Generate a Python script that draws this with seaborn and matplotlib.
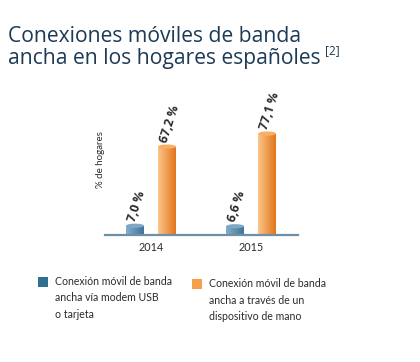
import numpy as np
import pandas as pd
import seaborn as sns
import matplotlib.pyplot as plt
from matplotlib.patches import Ellipse, Rectangle
from matplotlib.colors import LinearSegmentedColormap


years = ["2014", "2015"]
usb_values = [7.0, 6.6]
handheld_values = [67.2, 77.1]
series_names = ["Conexión móvil de banda\nancha vía modem USB\no tarjeta",
                "Conexión móvil de banda\nancha a través de un\ndispositivo de mano"]
value_labels = ["7,0 %", "6,6 %", "67,2 %", "77,1 %"]

title_color = "#1d3a56"
text_color = "#2b2b2b"
axis_color = "#6f8fa6"
legend_colors = ["#2f6f90", "#f4a04c"]
# (light side, dark side) for the cylinder shading
bar_shades = [("#86aecb", "#3f7399"), ("#fbc58a", "#e2761c")]
cap_colors = ["#7ea8c6", "#f7b063"]

df = pd.DataFrame({
    "year": years * 2,
    "value": usb_values + handheld_values,
    "serie": [series_names[0]] * 2 + [series_names[1]] * 2,
})

sns.set_theme(style="white")
plt.rcParams["font.family"] = ["Open Sans", "DejaVu Sans"]
small_font = ["Lato", "DejaVu Sans"]

fig = plt.figure(figsize=(4.2, 3.62), dpi=100)
ax = fig.add_axes([0.25, 0.351, 0.46, 0.414])

sns.barplot(data=df, x="year", y="value", hue="serie", palette=legend_colors,
            width=0.64, gap=0.44, legend=False, ax=ax)

ax.set_xlim(-0.46, 1.47)
ax.set_ylim(0, 114)

#Cylinder look: gradient fill clipped to each bar plus an elliptic cap
bars = [p for p in ax.patches if p.get_height() > 0]
bars = sorted(bars, key=lambda p: p.get_x())
order = [0, 1, 0, 1]  # serie index of each bar sorted by x
label_order = [0, 2, 1, 3]
cap_h = 3.2
for i, p in enumerate(bars):
    s = order[i]
    x0, w, h = p.get_x(), p.get_width(), p.get_height()
    cmap = LinearSegmentedColormap.from_list("c", [bar_shades[s][0], bar_shades[s][1]])
    grad = np.linspace(0.15, 1, 64).reshape(1, -1)
    p.set_facecolor("none")
    p.set_edgecolor("none")
    im = ax.imshow(grad, cmap=cmap, aspect="auto", extent=[x0, x0 + w, 0, h],
                   zorder=2, interpolation="bicubic")
    im.set_clip_path(p)
    ax.add_patch(Ellipse((x0 + w / 2, h), w, cap_h, facecolor=cap_colors[s],
                         edgecolor="none", zorder=3))
    ax.text(x0 + w / 2 - 0.03, h + 3.5, value_labels[label_order[i]], rotation=72,
            rotation_mode="anchor", ha="left", va="center", fontsize=8.8,
            fontweight="bold", color=text_color, zorder=4)

sns.despine(ax=ax, left=True)
ax.spines["bottom"].set_color(axis_color)
ax.spines["bottom"].set_linewidth(1.6)
ax.set_yticks([])
ax.set_xlabel("")
ax.set_ylabel("% de hogares", fontsize=7, color=text_color, labelpad=0,
              family=small_font)
ax.tick_params(axis="x", length=0, pad=5, labelsize=7.8, labelcolor=text_color)
for t in ax.get_xticklabels():
    t.set_family(small_font)

#Title with superscript reference
fig.text(0.018, 0.885, "Conexiones móviles de banda", fontsize=15.2, color=title_color,
         va="baseline")
line2 = fig.text(0.018, 0.822, "ancha en los hogares españoles", fontsize=15.2,
                 color=title_color, va="baseline")
fig.canvas.draw()
bb = line2.get_window_extent().transformed(fig.transFigure.inverted())
fig.text(bb.x1 + 0.012, 0.85, "[2]", fontsize=8.5, color=title_color, va="baseline")

#Legend entries: square key aligned with the first text line
legend_pos = [(0.090, 0.235), (0.457, 0.229)]
for (lx, ly), c, name in zip(legend_pos, legend_colors, series_names):
    fig.add_artist(Rectangle((lx, ly - 0.028), 0.024, 0.028, transform=fig.transFigure,
                             facecolor=c, edgecolor="none"))
    fig.text(lx + 0.041, ly + 0.003, name, fontsize=7.6, color=text_color, va="top",
             ha="left", linespacing=1.62, family=small_font)

fig.savefig("out.png", dpi=100)
